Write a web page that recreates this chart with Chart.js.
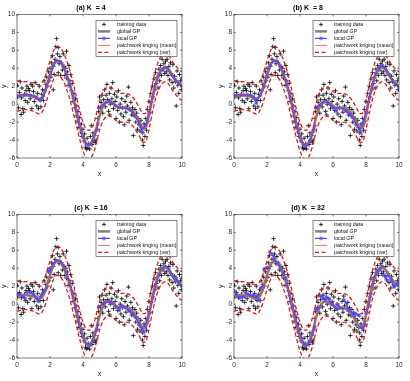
<!DOCTYPE html>
<html>
<head>
<meta charset="utf-8">
<script src="https://cdn.jsdelivr.net/npm/chart.js@4/dist/chart.umd.min.js"></script>
<style>
  html, body { margin: 0; padding: 0; background: #fff; overflow: hidden; }
  body { width: 410px; height: 381px; position: relative; font-family: "Liberation Sans", Arial, sans-serif; }
  .panel { position: absolute; width: 192px; height: 181px; }
</style>
</head>
<body>
<div class="panel" style="left:0;top:0"><canvas id="pa" width="192" height="181"></canvas></div>
<div class="panel" style="left:217px;top:0"><canvas id="pb" width="192" height="181"></canvas></div>
<div class="panel" style="left:0;top:200px"><canvas id="pc" width="192" height="181"></canvas></div>
<div class="panel" style="left:217px;top:200px"><canvas id="pd" width="192" height="181"></canvas></div>
<script>
// training points [x, y], same set in all four panels
const trainData = [
  [0.02,2.1],[0.05,0.8],[0.1,-0.4],[0.15,1.3],[0.2,2.5],[0.25,-1.15],[0.28,0.7],[0.3,1.8],[0.35,-0.5],[0.4,-0.9],
  [0.45,1.1],[0.5,0.4],[0.55,1.5],[0.6,2.0],[0.65,0.2],[0.7,1.75],[0.75,1.5],[0.8,0.6],[0.85,2.2],[0.9,-0.5],
  [0.95,2.0],[1.0,1.4],[1.05,0.3],[1.1,2.4],[1.15,0.8],[1.2,-0.2],[1.25,1.2],[1.3,-0.5],[1.35,2.0],[1.4,0.4],
  [1.45,-0.3],[1.5,1.1],[1.55,1.6],[1.6,0.4],[1.65,2.6],[1.7,1.5],[1.75,2.2],[1.8,3.0],[1.85,2.0],[1.9,3.6],
  [1.95,2.6],[2.0,4.0],[2.05,3.0],[2.1,4.6],[2.15,5.4],[2.2,1.6],[2.2,4.2],[2.25,3.3],[2.3,5.0],[2.35,6.4],
  [2.4,7.3],[2.45,5.6],[2.5,3.5],[2.5,6.3],[2.55,4.5],[2.6,5.3],[2.65,3.2],[2.7,4.6],[2.75,3.8],[2.8,5.6],
  [2.85,4.2],[2.9,3.2],[2.95,4.0],[3.0,5.9],[3.0,2.9],[3.05,3.6],[3.1,2.1],[3.15,4.3],[3.2,2.6],[3.25,3.3],
  [3.3,1.5],[3.35,2.3],[3.4,0.3],[3.45,1.2],[3.5,-0.4],[3.55,0.6],[3.6,-1.3],[3.62,-0.2],[3.65,-1.9],[3.7,-0.8],
  [3.75,-2.6],[3.8,-1.5],[3.85,-3.1],[3.9,-2.2],[3.95,-3.6],[4.0,-2.8],[4.05,-4.1],[4.1,-3.3],[4.15,-4.8],[4.2,-5.0],
  [4.25,-3.8],[4.3,-4.9],[4.35,-4.4],[4.4,-5.0],[4.45,-3.6],[4.5,-2.4],[4.55,-4.5],[4.6,-3.2],[4.65,-4.1],[4.7,-3.5],
  [4.75,-4.3],[4.8,-4.0],[4.85,-2.8],[4.9,-1.6],[4.95,-0.8],[5.0,0.8],[5.05,-0.4],[5.1,0.2],[5.15,1.0],[5.2,-1.0],
  [5.25,0.5],[5.3,1.6],[5.35,-0.3],[5.4,1.0],[5.45,2.2],[5.5,0.5],[5.55,-0.8],[5.6,1.2],[5.62,-1.2],[5.65,0.0],
  [5.7,1.8],[5.75,0.6],[5.8,2.4],[5.85,-0.5],[5.9,1.1],[5.95,0.3],[6.0,-1.6],[6.05,0.8],[6.1,-0.7],[6.15,1.5],
  [6.2,-2.0],[6.25,0.0],[6.3,-1.1],[6.35,0.6],[6.4,-0.4],[6.45,-1.4],[6.5,-2.3],[6.55,0.3],[6.6,-0.9],[6.65,0.9],
  [6.7,-0.2],[6.75,1.9],[6.8,-1.8],[6.85,-0.6],[6.9,0.2],[6.95,-1.2],[7.0,-0.4],[7.05,-3.5],[7.1,-1.3],[7.15,-0.6],
  [7.2,-2.0],[7.25,-1.0],[7.3,-2.8],[7.35,-1.6],[7.4,-2.3],[7.45,-3.0],[7.5,-1.8],[7.55,-2.6],[7.6,-4.0],[7.62,-3.2],
  [7.65,-4.6],[7.7,-2.2],[7.75,-3.6],[7.8,-1.6],[7.85,-2.9],[7.9,-0.6],[7.95,-1.9],[8.0,0.3],[8.05,-0.9],[8.1,1.2],
  [8.15,0.2],[8.2,2.0],[8.25,0.8],[8.3,2.8],[8.35,1.6],[8.4,3.5],[8.45,2.3],[8.5,3.0],[8.55,1.8],[8.6,3.9],
  [8.65,2.6],[8.7,4.3],[8.75,3.2],[8.8,5.0],[8.85,3.8],[8.9,4.5],[8.95,3.4],[9.0,4.8],[9.05,3.6],[9.1,5.0],
  [9.15,3.2],[9.2,4.2],[9.25,2.7],[9.3,4.6],[9.35,3.4],[9.4,2.4],[9.45,4.4],[9.5,1.8],[9.55,3.1],[9.6,2.5],
  [9.65,-0.2],[9.7,3.7],[9.75,2.1],[9.8,1.2],[9.85,3.3],[9.9,2.6],[9.95,1.6],[10.0,2.9]
];

// test grid
const xGrid = [0,0.2,0.4,0.6,0.8,1,1.2,1.4,1.6,1.8,2,2.2,2.4,2.6,2.8,3,3.2,3.4,3.6,3.8,4,4.2,4.4,4.6,4.8,
  5,5.2,5.4,5.6,5.8,6,6.2,6.4,6.6,6.8,7,7.2,7.4,7.6,7.8,8,8.2,8.4,8.6,8.8,9,9.2,9.4,9.6,9.8,10];
const globalY = [0.9,0.95,1.0,1.0,0.95,0.85,0.65,0.6,1.0,2.0,3.2,4.3,4.8,4.7,4.2,3.3,2.2,0.8,-0.8,-2.3,-3.6,-4.4,-4.5,-4.0,-2.8,
  -1.3,-0.3,0.2,0.3,0.1,-0.2,-0.4,-0.4,-0.4,-0.5,-0.8,-1.3,-1.9,-2.6,-2.6,-1.2,0.6,2.2,3.3,3.9,4.1,3.8,3.2,2.7,2.3,2.0];
const varUpper = [2.6,2.6,2.5,2.5,2.4,2.35,2.2,2.2,2.6,3.6,4.8,5.9,6.4,6.3,5.8,4.9,3.8,2.4,0.8,-0.7,-2.0,-2.8,-2.9,-2.4,-1.2,
  0.3,1.3,1.8,1.9,1.7,1.4,1.2,1.2,1.2,1.1,0.8,0.3,-0.3,-1.0,-1.0,0.4,2.2,3.8,4.9,5.5,5.7,5.4,4.8,4.3,3.9,3.6];
const varLower = [-0.8,-0.7,-0.6,-0.6,-0.7,-0.8,-1.0,-1.1,-0.6,0.4,1.6,2.7,3.2,3.1,2.6,1.7,0.6,-0.9,-2.4,-3.9,-5.2,-6.0,-6.1,-5.6,-4.4,
  -2.9,-1.9,-1.4,-1.3,-1.5,-1.8,-2.0,-2.0,-2.0,-2.1,-2.4,-2.9,-3.5,-4.2,-4.2,-2.8,-1.0,0.6,1.7,2.3,2.5,2.2,1.6,1.1,0.7,0.4];

// local GP per panel, [x, null] breaks the line between local models
const localA = [[0,0.9],[0.2,0.95],[0.4,1.0],[0.6,1.05],[0.8,1.0],[1.0,0.9],[1.2,0.65],[1.4,0.45],[1.6,0.9],[1.8,2.0],
  [2.0,3.2],[2.2,4.3],[2.4,4.85],[2.6,4.75],[2.8,4.2],[3.0,3.3],[3.2,2.2],[3.4,0.8],[3.6,-0.8],[3.8,-2.3],[4.0,-3.6],
  [4.2,-4.45],[4.4,-4.55],[4.6,-4.0],[4.8,-2.9],[4.9,-2.2],[4.9,null],[4.95,-0.4],[5.2,-0.1],[5.4,0.2],[5.6,0.3],
  [5.8,0.1],[6.0,-0.2],[6.2,-0.35],[6.4,-0.4],[6.6,-0.45],[6.8,-0.6],[7.0,-0.9],[7.2,-1.4],[7.4,-2.1],[7.6,-3.1],
  [7.6,null],[7.65,-2.7],[7.8,-2.3],[8.0,-1.0],[8.2,0.7],[8.4,2.2],[8.6,3.3],[8.8,3.9],[9.0,4.1],[9.2,3.8],[9.4,3.2],
  [9.6,2.7],[9.8,2.3],[10,2.0]];
const localB = [[0,1.0],[0.2,1.0],[0.4,1.0],[0.6,1.0],[0.8,1.05],[1.0,1.0],[1.2,0.7],[1.35,0.1],[1.35,null],[1.4,0.6],
  [1.6,1.0],[1.8,2.0],[2.0,3.2],[2.2,4.3],[2.4,4.85],[2.6,4.8],[2.8,4.2],[3.0,3.3],[3.2,2.2],[3.4,0.8],[3.6,-0.8],
  [3.8,-2.5],[4.0,-3.7],[4.2,-4.5],[4.4,-4.6],[4.6,-4.1],[4.8,-3.0],[4.9,-2.4],[4.9,null],[4.95,-0.4],[5.2,-0.1],
  [5.4,0.2],[5.6,0.3],[5.8,0.0],[6.0,-0.4],[6.2,-0.8],[6.2,null],[6.25,-0.5],[6.4,-0.4],[6.6,-0.5],[6.8,-0.8],
  [7.0,-1.1],[7.2,-1.5],[7.4,-2.1],[7.6,-2.7],[7.7,-3.2],[7.7,null],[7.75,-2.4],[8.0,-1.0],[8.2,0.7],[8.4,2.2],
  [8.6,3.4],[8.8,4.1],[9.0,4.3],[9.2,3.9],[9.4,3.3],[9.6,2.7],[9.8,2.2],[10,1.9]];
const localC = [[0,1.2],[0.2,1.05],[0.4,0.8],[0.5,0.6],[0.5,null],[0.6,1.3],[0.8,1.3],[1.0,1.1],[1.2,0.6],[1.3,0.3],
  [1.3,null],[1.4,0.8],[1.6,1.3],[1.8,1.8],[1.8,null],[1.9,3.6],[2.0,3.8],[2.2,4.5],[2.4,4.85],[2.6,4.8],[2.8,4.3],
  [2.9,3.9],[2.9,null],[3.0,3.5],[3.2,2.3],[3.4,0.8],[3.6,-0.8],[3.8,-2.4],[4.0,-3.6],[4.2,-4.4],[4.4,-4.6],
  [4.6,-4.0],[4.8,-2.9],[4.9,-2.3],[4.9,null],[4.95,-0.3],[5.2,0.0],[5.4,0.3],[5.6,0.3],[5.7,0.2],[5.7,null],
  [5.8,0.1],[6.0,-0.3],[6.2,-0.7],[6.2,null],[6.25,-0.3],[6.4,-0.2],[6.6,-0.4],[6.8,-0.8],[7.0,-1.1],[7.2,-1.5],
  [7.4,-2.2],[7.6,-2.9],[7.7,-3.1],[7.7,null],[7.75,-2.5],[8.0,-1.0],[8.2,0.6],[8.4,2.1],[8.6,3.3],[8.8,4.0],
  [9.0,4.2],[9.2,3.9],[9.4,3.2],[9.6,2.6],[9.6,null],[9.65,2.9],[9.8,2.4],[10,2.0]];
const localD = [[0,1.5],[0.15,1.1],[0.3,0.8],[0.3,null],[0.35,0.7],[0.5,0.8],[0.65,0.8],[0.65,null],[0.7,1.3],
  [0.85,1.1],[1.0,1.0],[1.0,null],[1.05,0.9],[1.2,1.0],[1.35,0.8],[1.35,null],[1.4,0.9],[1.55,0.4],[1.55,null],
  [1.6,1.8],[1.75,2.0],[1.75,null],[1.8,3.9],[2.0,4.1],[2.1,4.0],[2.1,null],[2.15,5.8],[2.3,5.6],[2.45,5.1],
  [2.45,null],[2.5,4.8],[2.65,4.5],[2.8,4.1],[2.8,null],[2.85,3.8],[3.0,3.3],[3.15,2.9],[3.15,null],[3.2,2.3],
  [3.35,1.0],[3.5,0.0],[3.5,null],[3.55,-0.3],[3.7,-1.3],[3.85,-2.4],[3.85,null],[3.9,-2.8],[4.05,-3.7],[4.2,-4.3],
  [4.2,null],[4.25,-4.5],[4.4,-4.6],[4.55,-4.1],[4.55,null],[4.6,-4.2],[4.75,-3.3],[4.9,-2.5],[4.9,null],
  [4.95,-0.6],[5.1,-0.5],[5.2,-0.3],[5.2,null],[5.25,0.9],[5.4,0.7],[5.55,0.5],[5.55,null],[5.6,0.8],[5.75,0.6],
  [5.9,0.0],[5.9,null],[5.95,0.2],[6.1,-0.3],[6.25,-0.6],[6.25,null],[6.3,-0.1],[6.45,-0.4],[6.6,-0.5],[6.6,null],
  [6.65,0.5],[6.8,0.1],[6.95,-0.7],[6.95,null],[7.0,-0.6],[7.15,-1.0],[7.3,-1.3],[7.3,null],[7.35,-1.0],[7.5,-1.2],
  [7.6,-1.3],[7.6,null],[7.65,-2.5],[7.8,-2.7],[7.95,-2.3],[7.95,null],[8.0,-1.0],[8.15,-0.2],[8.3,1.2],[8.3,null],
  [8.35,1.9],[8.5,2.9],[8.65,3.6],[8.65,null],[8.7,3.5],[8.85,4.0],[9.0,4.2],[9.0,null],[9.05,3.2],[9.2,3.0],
  [9.3,2.6],[9.3,null],[9.35,3.2],[9.5,2.8],[9.65,2.1],[9.65,null],[9.7,1.9],[9.85,2.2],[10,2.4]];

const xTicks = [0, 2, 4, 6, 8, 10];
const yTicks = [-6, -4, -2, 0, 2, 4, 6, 8, 10];
const legendLabels = ['training data', 'global GP', 'local GP', 'patchwork kriging (mean)', 'patchwork kriging (var)'];

const panels = [
  { id: 'pa', title: '(a) K  = 4', local: localA },
  { id: 'pb', title: '(b) K  = 8', local: localB },
  { id: 'pc', title: '(c) K  = 16', local: localC },
  { id: 'pd', title: '(d) K  = 32', local: localD }
];

const cGray = 'rgb(128,128,128)';
const cBlue = 'rgb(80,75,245)';
const cRed = 'rgb(235,70,70)';
const cRedDash = 'rgb(230,20,20)';
const axisColor = '#262626';
const fontFam = '"Liberation Sans", Arial, sans-serif';

const pairs = arr => arr.map(p => ({ x: p[0], y: p[1] }));
const onGrid = ys => xGrid.map((x, i) => ({ x: x, y: ys[i] }));

// box, inward ticks and the legend, drawn MATLAB style
const framePlugin = {
  id: 'frame',
  afterDraw(chart) {
    const { ctx, chartArea: a, scales: { x, y } } = chart;
    ctx.save();
    ctx.strokeStyle = axisColor;
    ctx.lineWidth = 0.6;
    ctx.strokeRect(a.left, a.top, a.right - a.left, a.bottom - a.top);
    ctx.beginPath();
    xTicks.forEach(v => {
      const px = x.getPixelForValue(v);
      ctx.moveTo(px, a.bottom); ctx.lineTo(px, a.bottom - 2);
      ctx.moveTo(px, a.top); ctx.lineTo(px, a.top + 2);
    });
    yTicks.forEach(v => {
      const py = y.getPixelForValue(v);
      ctx.moveTo(a.left, py); ctx.lineTo(a.left + 2, py);
      ctx.moveTo(a.right, py); ctx.lineTo(a.right - 2, py);
    });
    ctx.stroke();

    // legend
    const bw = 81, bh = 36;
    const bx = a.right - bw - 5, by = a.top + 6;
    ctx.fillStyle = '#fff';
    ctx.fillRect(bx, by, bw, bh);
    ctx.strokeStyle = '#333';
    ctx.lineWidth = 0.6;
    ctx.strokeRect(bx, by, bw, bh);
    ctx.font = '5.3px ' + fontFam;
    ctx.textBaseline = 'middle';
    legendLabels.forEach((lab, i) => {
      const ry = by + 4 + i * 7;
      const x0 = bx + 2, x1 = bx + 14, xm = bx + 8;
      ctx.save();
      if (i === 0) {
        ctx.strokeStyle = '#000'; ctx.lineWidth = 0.8;
        ctx.beginPath();
        ctx.moveTo(xm - 2, ry); ctx.lineTo(xm + 2, ry);
        ctx.moveTo(xm, ry - 2); ctx.lineTo(xm, ry + 2);
        ctx.stroke();
      } else if (i === 1) {
        ctx.strokeStyle = cGray; ctx.lineWidth = 2.5;
        ctx.beginPath(); ctx.moveTo(x0, ry); ctx.lineTo(x1, ry); ctx.stroke();
      } else if (i === 2) {
        ctx.strokeStyle = cBlue; ctx.lineWidth = 1.2;
        ctx.beginPath(); ctx.moveTo(x0, ry); ctx.lineTo(x1, ry); ctx.stroke();
        ctx.lineWidth = 0.8;
        ctx.beginPath();
        for (let k = 0; k < 4; k++) {
          const ang = k * Math.PI / 4;
          ctx.moveTo(xm - 2 * Math.cos(ang), ry - 2 * Math.sin(ang));
          ctx.lineTo(xm + 2 * Math.cos(ang), ry + 2 * Math.sin(ang));
        }
        ctx.stroke();
      } else if (i === 3) {
        ctx.strokeStyle = cRed; ctx.lineWidth = 0.8;
        ctx.beginPath(); ctx.moveTo(x0, ry); ctx.lineTo(x1, ry); ctx.stroke();
      } else {
        ctx.strokeStyle = cRedDash; ctx.lineWidth = 1.3; ctx.setLineDash([4, 2.5]);
        ctx.beginPath(); ctx.moveTo(x0, ry); ctx.lineTo(x1 + 1, ry); ctx.stroke();
      }
      ctx.restore();
      ctx.fillStyle = '#111';
      ctx.fillText(lab, bx + 21, ry + 0.3);
    });
    ctx.restore();
  }
};

function buildChart(p) {
  const ctx = document.getElementById(p.id).getContext('2d');
  new Chart(ctx, {
    type: 'line',
    data: {
      datasets: [
        { label: legendLabels[0], data: pairs(trainData), showLine: false, pointStyle: 'cross',
          pointRadius: 2.2, pointBorderWidth: 0.8, borderColor: '#000', backgroundColor: '#000', order: 5 },
        { label: legendLabels[1], data: onGrid(globalY), borderColor: cGray, borderWidth: 2.6,
          pointRadius: 0, tension: 0.3, order: 4 },
        { label: legendLabels[2], data: pairs(p.local), borderColor: cBlue, backgroundColor: cBlue,
          borderWidth: 1.8, pointStyle: 'star', pointRadius: 1.8, pointBorderWidth: 0.9,
          pointBorderColor: cBlue, tension: 0.2, spanGaps: false, order: 3 },
        { label: legendLabels[3], data: onGrid(globalY), borderColor: cRed, borderWidth: 0.8,
          pointRadius: 0, tension: 0.3, order: 2 },
        { label: legendLabels[4], data: onGrid(varUpper), borderColor: cRedDash, borderWidth: 1.3,
          borderDash: [4, 2.5], pointRadius: 0, tension: 0.3, order: 1 },
        { label: legendLabels[4], data: onGrid(varLower), borderColor: cRedDash, borderWidth: 1.3,
          borderDash: [4, 2.5], pointRadius: 0, tension: 0.3, order: 1 }
      ]
    },
    options: {
      responsive: false,
      animation: false,
      layout: { padding: { left: 0, right: 10, top: 0, bottom: 1 } },
      plugins: {
        legend: { display: false },
        tooltip: { enabled: false },
        title: {
          display: true, text: p.title, color: '#000',
          font: { size: 7, weight: 'bold', family: fontFam },
          padding: { top: 4, bottom: 2 }
        }
      },
      scales: {
        x: {
          type: 'linear', min: 0, max: 10,
          afterBuildTicks: s => { s.ticks = xTicks.map(v => ({ value: v })); },
          afterFit: s => { s.height = 22; },
          grid: { display: false, drawTicks: false }, border: { display: false },
          ticks: { color: axisColor, padding: 3, font: { size: 6.5, family: fontFam } },
          title: { display: true, text: 'x', color: axisColor, padding: { top: 0, bottom: 2 },
            font: { size: 7, family: fontFam } }
        },
        y: {
          type: 'linear', min: -6, max: 10,
          afterBuildTicks: s => { s.ticks = yTicks.map(v => ({ value: v })); },
          afterFit: s => { s.width = 17; },
          grid: { display: false, drawTicks: false }, border: { display: false },
          ticks: { color: axisColor, padding: 2, font: { size: 6.5, family: fontFam } },
          title: { display: true, text: 'y', color: axisColor, padding: { top: 0, bottom: 0 },
            font: { size: 7, family: fontFam } }
        }
      }
    },
    plugins: [framePlugin]
  });
}

panels.forEach(buildChart);
</script>
</body>
</html>
